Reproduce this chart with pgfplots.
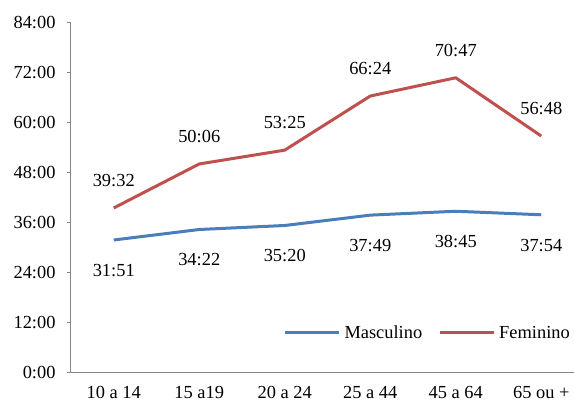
\documentclass[border=0pt]{standalone}
\usepackage{pgfplots}
\pgfplotsset{compat=1.18}
\usepackage{fontspec}
\setmainfont{Liberation Serif}
\definecolor{mblue}{RGB}{74,126,187}
\definecolor{fred}{RGB}{192,80,77}
\definecolor{axgray}{RGB}{134,134,134}
\begin{document}
\begin{tikzpicture}
\begin{axis}[
  at={(0pt,0pt)}, anchor=south west,
  scale only axis, width=503pt, height=350pt,
  xmin=-0.5, xmax=5.383, ymin=0, ymax=84,
  axis x line*=bottom, axis y line*=left,
  axis line style={axgray, line width=1pt},
  clip=false,
  tick align=outside,
  ytick={0,12,24,36,48,60,72,84},
  yticklabels={0:00,12:00,24:00,36:00,48:00,60:00,72:00,84:00},
  xtick={0,1,2,3,4,5},
  xticklabels={10 a 14,15 a19,20 a 24,25 a 44,45 a 64,65 ou +},
  minor xtick={-0.5,0.5,1.5,2.5,3.5,4.5},
  xtick style={draw=none},
  minor x tick style={axgray, line width=1pt},
  ytick style={axgray, line width=1pt},
  major tick length=4pt, minor tick length=5pt,
  tick label style={font=\fontsize{18.4}{22}\selectfont, text=black},
  yticklabel style={xshift=-8pt},
  xticklabel style={yshift=-6.5pt},
  /pgf/number format/assume math mode=true,
  legend style={draw=none, fill=none, inner sep=0pt, nodes={inner sep=0pt},
    font=\fontsize{18.4}{22}\selectfont,
    at={(0.992,0.11429)}, anchor=east,
    column sep=4pt,
    /tikz/every even column/.append style={column sep=16pt}},
  legend columns=-1,
  legend image code/.code={\draw[#1, line width=3pt] (0pt,0pt) -- (54pt,0pt);},
  nodes near coords,
  point meta=explicit symbolic,
  every node near coord/.append style={font=\fontsize{18.4}{22}\selectfont, text=black, anchor=center, inner sep=0pt},
]
\addplot[mblue, line width=3pt, line join=round, mark=none,
  every node near coord/.append style={yshift=-30.5pt}]
  table[meta=lab] {
x y lab
0 31.850 31:51
1 34.367 34:22
2 35.333 35:20
3 37.817 37:49
4 38.750 38:45
5 37.900 37:54
};
\addlegendentry{Masculino}
\addplot[fred, line width=3pt, line join=round, mark=none,
  every node near coord/.append style={yshift=27.3pt}]
  table[meta=lab] {
x y lab
0 39.533 39:32
1 50.100 50:06
2 53.417 53:25
3 66.400 66:24
4 70.783 70:47
5 56.800 56:48
};
\addlegendentry{Feminino}
\end{axis}
\pgfresetboundingbox
\path (-71pt,-29.3pt) rectangle (503pt,372.7pt);
\end{tikzpicture}
\end{document}
